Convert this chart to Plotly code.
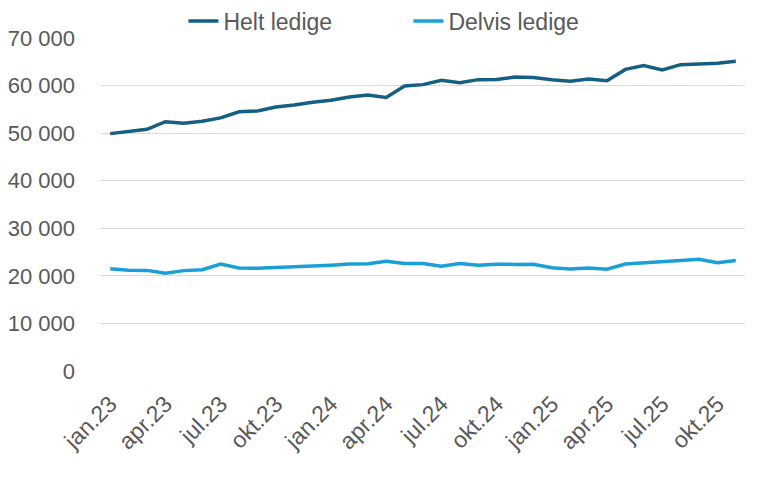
import plotly.graph_objects as go

# months jan.23 - nov.25
month_names = ["jan", "feb", "mar", "apr", "mai", "jun",
               "jul", "aug", "sep", "okt", "nov", "des"]
months = [f"{m}.{y}" for y in ("23", "24", "25") for m in month_names][:35]

helt_ledige = [49900, 50400, 50800, 52400, 52100, 52500, 53200, 54500, 54650,
               55500, 55900, 56500, 56900, 57600, 58000, 57500, 59900, 60200,
               61100, 60600, 61250, 61300, 61800, 61700, 61200, 60900, 61400,
               61000, 63400, 64200, 63300, 64400, 64500, 64700, 65100]

delvis_ledige = [21500, 21200, 21150, 20550, 21100, 21300, 22500, 21650, 21600,
                 21700, 21900, 22050, 22250, 22500, 22550, 23050, 22600, 22600,
                 22000, 22600, 22250, 22450, 22400, 22450, 21700, 21450, 21650,
                 21400, 22500, 22800, 23100, 23250, 23500, 22750, 23250]

y_ticks = [0, 10000, 20000, 30000, 40000, 50000, 60000, 70000]
y_labels = ["0", "10 000", "20 000", "30 000", "40 000", "50 000", "60 000", "70 000"]

fig = go.Figure()
fig.add_trace(go.Scatter(x=months, y=helt_ledige, mode="lines", name="Helt ledige",
                         line=dict(color="#156082", width=3.5)))
fig.add_trace(go.Scatter(x=months, y=delvis_ledige, mode="lines", name="Delvis ledige",
                         line=dict(color="#1A9FD6", width=3.5)))

# page body has an 8px margin, so the figure is a bit smaller
fig.update_layout(
    width=760, height=474,
    margin=dict(l=93, r=23, t=30, b=111, autoexpand=False),
    plot_bgcolor="white", paper_bgcolor="white",
    font=dict(family="Liberation Sans, Arial, sans-serif", size=23, color="#595959"),
    legend=dict(orientation="h", x=0.128, y=1.051, xanchor="left", yanchor="middle",
                entrywidth=180, entrywidthmode="pixels",
                font=dict(size=23, color="#595959"), bgcolor="rgba(0,0,0,0)"),
    xaxis=dict(type="category", range=[-0.5, 34.5], automargin=False,
               tickvals=months[::3], ticktext=months[::3],
               tickangle=-45, showgrid=False, showline=False, zeroline=False,
               ticks="", ticklabelstandoff=14),
    yaxis=dict(range=[0, 70000], tickvals=y_ticks, ticktext=y_labels, automargin=False,
               tickfont=dict(size=22),
               showgrid=True, gridcolor="#D9D9D9", gridwidth=1,
               zeroline=False, showline=False, ticks="", ticklabelstandoff=25),
)

fig.write_html("out.html")
